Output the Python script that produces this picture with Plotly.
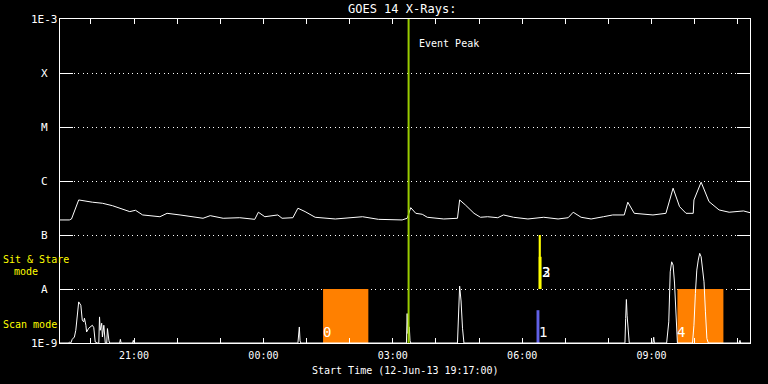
import math
import pandas as pd
import plotly.graph_objects as go

# ---------------- data ----------------
# GOES 14 long channel (1-8 A) flux, W/m^2
long_times = ["19:17", "19:30", "19:33", "19:43", "20:02", "20:16", "20:30", "20:44", "20:54", "21:02",
              "21:12", "21:36", "21:46", "22:04", "22:22", "22:36", "22:46", "23:04", "23:27", "23:48",
              "23:53", "00:02", "00:20", "00:26", "00:41", "00:48", "00:58", "01:12", "01:40", "02:18",
              "02:40", "03:13", "03:20", "03:25", "03:32", "03:41", "03:48", "04:11", "04:30", "04:33",
              "04:41", "04:53", "05:02", "05:12", "05:26", "05:34", "05:48", "06:08", "06:30", "06:50",
              "07:04", "07:11", "07:22", "07:36", "07:53", "08:06", "08:22", "08:27", "08:36", "09:02",
              "09:20", "09:30", "09:39", "09:48", "09:58", "09:59", "10:09", "10:20", "10:34", "10:48",
              "11:08", "11:17"]
long_flux = [1.90e-7, 1.90e-7, 1.98e-7, 4.46e-7, 4.05e-7, 3.87e-7, 3.49e-7, 3.00e-7, 2.71e-7, 2.87e-7,
             2.35e-7, 2.18e-7, 2.52e-7, 2.35e-7, 2.18e-7, 2.04e-7, 2.28e-7, 2.04e-7, 2.09e-7, 1.95e-7,
             2.64e-7, 2.18e-7, 2.35e-7, 2.04e-7, 2.09e-7, 3.13e-7, 2.71e-7, 2.13e-7, 1.98e-7, 2.18e-7,
             1.95e-7, 1.90e-7, 2.04e-7, 3.21e-7, 2.52e-7, 2.42e-7, 2.13e-7, 1.98e-7, 2.04e-7, 4.46e-7,
             3.60e-7, 2.52e-7, 2.13e-7, 2.18e-7, 2.09e-7, 2.35e-7, 2.13e-7, 1.98e-7, 2.13e-7, 1.98e-7,
             2.09e-7, 2.64e-7, 2.13e-7, 1.98e-7, 2.18e-7, 2.35e-7, 2.35e-7, 4.05e-7, 2.52e-7, 2.35e-7,
             2.52e-7, 7.36e-7, 3.35e-7, 2.52e-7, 2.52e-7, 4.46e-7, 9.51e-7, 4.15e-7, 2.91e-7, 2.64e-7,
             2.79e-7, 2.59e-7]

# GOES 14 short channel (0.5-4 A) flux, W/m^2 (floored at 1E-9)
short_times = ["19:17", "19:29", "19:30", "19:32", "19:34", "19:37", "19:39", "19:40", "19:41", "19:43",
               "19:46", "19:47", "19:48", "19:50", "19:51", "19:53", "19:54", "19:57", "20:00", "20:02",
               "20:04", "20:05", "20:06", "20:09", "20:11", "20:12", "20:13", "20:15", "20:16", "20:18",
               "20:19", "20:20", "20:22", "20:23", "20:25", "20:26", "20:40", "20:41", "20:42", "20:58",
               "20:59", "21:00", "00:48", "00:50", "00:51", "00:52", "03:19", "03:20", "03:21", "03:22",
               "03:23", "03:24", "03:25", "04:30", "04:32", "04:33", "04:35", "04:36", "04:37", "04:39",
               "08:23", "08:24", "08:25", "08:26", "08:28", "08:29", "09:02", "09:03", "09:04", "09:21",
               "09:24", "09:26", "09:28", "09:30", "09:32", "09:33", "09:34", "09:36", "09:57", "09:59",
               "10:01", "10:03", "10:05", "10:07", "10:09", "10:11", "10:13", "10:15", "10:17", "10:19",
               "11:02", "11:03", "11:04", "11:17"]
short_flux = [1e-9, 1e-9, 1.04e-9, 1e-9, 1.17e-9, 1.29e-9, 1.72e-9, 2.32e-9, 3.77e-9, 5.77e-9,
              5.01e-9, 3.51e-9, 2.64e-9, 2.46e-9, 2.88e-9, 2.13e-9, 1.60e-9, 1.88e-9, 2.04e-9, 2.13e-9,
              1.93e-9, 1.39e-9, 1.04e-9, 1e-9, 1e-9, 3.04e-9, 1.72e-9, 2.32e-9, 1.29e-9, 2.13e-9,
              1.50e-9, 1e-9, 1e-9, 1.85e-9, 1.12e-9, 1e-9, 1e-9, 1.17e-9, 1e-9, 1e-9,
              1.12e-9, 1e-9, 1e-9, 1.98e-9, 1.10e-9, 1e-9, 1e-9, 3.51e-9, 1.50e-9, 2.00e-9,
              1.98e-9, 1.10e-9, 1e-9, 1e-9, 4.00e-9, 1.13e-8, 6.00e-9, 2.50e-9, 1.88e-9, 1e-9,
              1e-9, 2.84e-9, 6.40e-9, 3.27e-9, 1.28e-9, 1e-9, 1e-9, 1.28e-9, 1e-9, 1e-9,
              2.46e-9, 2.08e-8, 3.19e-8, 2.77e-8, 1.29e-8, 7.15e-9, 2.64e-9, 1e-9, 1e-9, 2.13e-9,
              8.26e-9, 2.24e-8, 3.43e-8, 4.57e-8, 3.95e-8, 1.95e-8, 1.36e-8, 3.77e-9, 1.21e-9, 1e-9,
              1e-9, 1.12e-9, 1e-9, 1e-9]

# observation windows
scan_labels = ["0", "4"]
scan_start = ["01:23", "09:36"]
scan_end = ["02:26", "10:40"]
scan_short_labels = ["1"]
scan_short_start = ["06:20"]
scan_short_end = ["06:24"]
scan_short_top = [4.05e-9]
sit_labels = ["2", "3"]
sit_start = ["06:23", "06:23"]
sit_end = ["06:26", "06:27"]
sit_top = [1e-7, 3.95e-8]

event_peak = "03:22"
range_start, range_end = "19:17", "11:17"

ylevels = [1e-9, 1e-8, 1e-7, 1e-6, 1e-5, 1e-4, 1e-3]
ylabels = ["1E-9", "A", "B", "C", "M", "X", "1E-3"]
hour_ticks = ["20:00", "21:00", "22:00", "23:00", "00:00", "01:00", "02:00", "03:00", "04:00",
              "05:00", "06:00", "07:00", "08:00", "09:00", "10:00", "11:00"]
hour_labels = ["", "21:00", "", "", "00:00", "", "", "03:00", "", "", "06:00", "", "", "09:00", "", ""]


def ts(hhmm):
    day = "2013-06-12" if int(hhmm[:2]) >= 19 else "2013-06-13"
    return pd.Timestamp(f"{day} {hhmm}")


assert len(long_times) == len(long_flux)
assert len(short_times) == len(short_flux)

FONT = "DejaVu Sans Mono"
YELLOW = "#ffff00"
ORANGE = "#ff8000"
GREEN = "#99cc00"
BLUE = "#6060e6"

fig = go.Figure()


def box(t0, t1, y0, y1, color):
    fig.add_trace(go.Scatter(x=[ts(t0), ts(t0), ts(t1), ts(t1), ts(t0)],
                             y=[y0, y1, y1, y0, y0], mode="lines", fill="toself",
                             fillcolor=color, line=dict(width=0, color=color),
                             hoverinfo="skip"))


for s, e in zip(scan_start, scan_end):
    box(s, e, 1e-9, 1e-8, ORANGE)
for s, e, top in zip(scan_short_start, scan_short_end, scan_short_top):
    box(s, e, 1e-9, top, BLUE)
for s, e, top in zip(sit_start, sit_end, sit_top):
    box(s, e, 1e-8, top, YELLOW)

fig.add_trace(go.Scatter(x=[ts(t) for t in long_times], y=long_flux, mode="lines",
                         line=dict(color="white", width=1)))
fig.add_trace(go.Scatter(x=[ts(t) for t in short_times], y=short_flux, mode="lines",
                         line=dict(color="white", width=1)))
fig.add_trace(go.Scatter(x=[ts(event_peak), ts(event_peak)], y=[1e-9, 1e-3], mode="lines",
                         line=dict(color=GREEN, width=2)))

ann = []
# y-axis class labels (centered)
for v, lab in zip(ylevels, ylabels):
    ann.append(dict(x=(44 - 60) / 690, xref="paper", y=math.log10(v), yref="y", text=lab,
                    showarrow=False, xanchor="center", yanchor="middle",
                    font=dict(color="white", size=11, family=FONT)))
# window labels
for s, lab in zip(scan_start, scan_labels):
    ann.append(dict(x=ts(s), y=-8.80, xref="x", yref="y", text=lab, showarrow=False,
                    xanchor="left", yanchor="middle", xshift=-2,
                    font=dict(color="white", size=14, family=FONT)))
for s, lab in zip(scan_short_end, scan_short_labels):
    ann.append(dict(x=ts(s), y=-8.80, xref="x", yref="y", text=lab, showarrow=False,
                    xanchor="left", yanchor="middle", xshift=-2,
                    font=dict(color="white", size=14, family=FONT)))
for e, lab in zip(sit_end, sit_labels):
    ann.append(dict(x=ts(sit_end[0]), y=-7.69, xref="x", yref="y", text=lab, showarrow=False,
                    xanchor="left", yanchor="middle", xshift=-1,
                    font=dict(color="white", size=14, family=FONT)))
# Event peak
ann.append(dict(x=ts(event_peak), y=1 - (43 - 19) / 324, xref="x", yref="paper", text="Event Peak",
                showarrow=False, xanchor="left", yanchor="middle", xshift=8,
                font=dict(color="white", size=10, family=FONT)))
# mode labels
ann.append(dict(x=(1 - 60) / 690, xref="paper", y=-7.446, yref="y", text="Sit & Stare",
                showarrow=False, xanchor="left", yanchor="middle",
                font=dict(color=YELLOW, size=10, family=FONT)))
ann.append(dict(x=(12 - 60) / 690, xref="paper", y=-7.669, yref="y", text="mode",
                showarrow=False, xanchor="left", yanchor="middle",
                font=dict(color=YELLOW, size=10, family=FONT)))
ann.append(dict(x=(1 - 60) / 690, xref="paper", y=-8.652, yref="y", text="Scan mode",
                showarrow=False, xanchor="left", yanchor="middle",
                font=dict(color=YELLOW, size=10, family=FONT)))
# title and x-axis title
ann.append(dict(x=(402 - 60) / 690, xref="paper", y=1 + (19 - 9) / 324, yref="paper",
                text="GOES 14 X-Rays:", showarrow=False, xanchor="center", yanchor="middle",
                font=dict(color="white", size=12, family=FONT)))
ann.append(dict(x=0.5, xref="paper", y=-(370 - 343) / 324, yref="paper",
                text="Start Time (12-Jun-13 19:17:00)", showarrow=False, xanchor="center",
                yanchor="middle", font=dict(color="white", size=10, family=FONT)))

fig.update_layout(
    width=768, height=384,
    paper_bgcolor="black", plot_bgcolor="black",
    margin=dict(l=60, r=18, t=19, b=41),
    showlegend=False,
    annotations=ann,
    xaxis=dict(type="date", range=[ts(range_start), ts(range_end)],
               showline=True, linecolor="white", linewidth=1, mirror="ticks",
               ticks="inside", ticklen=5, tickcolor="white", tickwidth=1,
               tickmode="array", tickvals=[ts(t) for t in hour_ticks], ticktext=hour_labels,
               tickfont=dict(color="white", size=10, family=FONT),
               ticklabelstandoff=3,
               showgrid=False, zeroline=False),
    yaxis=dict(type="log", range=[-9, -3],
               showline=True, linecolor="white", linewidth=1, mirror="ticks",
               ticks="inside", ticklen=13, tickcolor="white", tickwidth=1,
               tickmode="array", tickvals=ylevels, showticklabels=False,
               showgrid=True, gridcolor="white", gridwidth=1, griddash="1px,3.5px",
               zeroline=False),
)

fig.write_html("out.html",
               config={"displayModeBar": False},
               post_script="document.body.style.margin='0px';"
                           "document.body.style.background='black';")
